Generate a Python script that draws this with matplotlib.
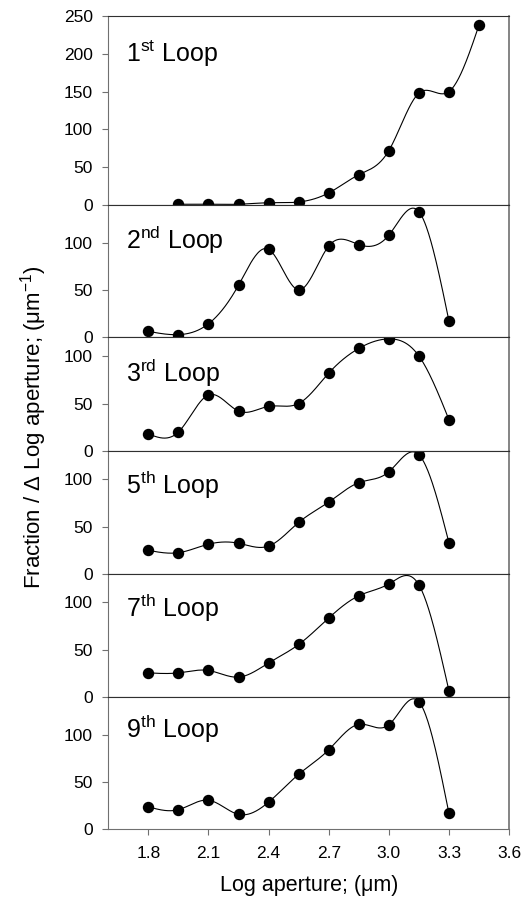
import numpy as np
import matplotlib
matplotlib.use('Agg')
import matplotlib.pyplot as plt

plt.rcParams['font.family'] = ['Liberation Sans', 'DejaVu Sans']
plt.rcParams['mathtext.fontset'] = 'custom'
plt.rcParams['mathtext.rm'] = 'Liberation Sans'
plt.rcParams['mathtext.it'] = 'Liberation Sans:italic'

# log aperture values (the 1st loop is shifted one bin to the right)
x_first = [1.95, 2.10, 2.25, 2.40, 2.55, 2.70, 2.85, 3.00, 3.15, 3.30, 3.45]
x_other = [1.80, 1.95, 2.10, 2.25, 2.40, 2.55, 2.70, 2.85, 3.00, 3.15, 3.30]

loop1 = [1, 1, 1, 3, 4, 16, 40, 72, 148, 150, 238]
loop2 = [6, 2.5, 14, 55, 93, 50, 96.5, 98, 108, 133, 17]
loop3 = [18, 20, 59, 42, 47, 50, 82, 108, 118, 100, 33]
loop5 = [25, 22.5, 31.5, 32.5, 29.5, 54.5, 76, 96.5, 108, 126, 33]
loop7 = [25.5, 25.5, 28, 21, 36, 55.5, 83.5, 107, 119.5, 118.5, 6.5]
loop9 = [23.5, 20.5, 30.5, 15.5, 28.5, 58, 84, 111, 110.5, 135, 16.5]

labels = ['1$^{\\rm st}$ Loop', '2$^{\\rm nd}$ Loop', '3$^{\\rm rd}$ Loop',
          '5$^{\\rm th}$ Loop', '7$^{\\rm th}$ Loop', '9$^{\\rm th}$ Loop']
ymax = [250, 140, 120, 130, 130, 140]
label_y = [0.758, 0.667, 0.608, 0.648, 0.647, 0.686]


def natural_spline(x, y, n=400):
    x = np.asarray(x, float)
    y = np.asarray(y, float)
    k = len(x)
    h = np.diff(x)
    A = np.zeros((k, k))
    r = np.zeros(k)
    A[0, 0] = A[-1, -1] = 1
    for i in range(1, k - 1):
        A[i, i - 1] = h[i - 1]
        A[i, i] = 2 * (h[i - 1] + h[i])
        A[i, i + 1] = h[i]
        r[i] = 3 * ((y[i + 1] - y[i]) / h[i] - (y[i] - y[i - 1]) / h[i - 1])
    c = np.linalg.solve(A, r)
    b = (y[1:] - y[:-1]) / h - h * (2 * c[:-1] + c[1:]) / 3
    d = (c[1:] - c[:-1]) / (3 * h)
    xs = np.linspace(x[0], x[-1], n)
    idx = np.clip(np.searchsorted(x, xs) - 1, 0, k - 2)
    t = xs - x[idx]
    ys = y[idx] + b[idx] * t + c[idx] * t ** 2 + d[idx] * t ** 3
    return xs, ys


series = [(x_first, loop1), (x_other, loop2), (x_other, loop3),
          (x_other, loop5), (x_other, loop7), (x_other, loop9)]

fig = plt.figure(figsize=(5.27, 9.05), dpi=100)
gs = fig.add_gridspec(6, 1, height_ratios=[189, 132, 114, 123, 123, 132],
                      left=0.2055, right=0.966, top=0.9823, bottom=0.084,
                      hspace=0)

for i, (xv, yv) in enumerate(series):
    ax = fig.add_subplot(gs[i])
    xs, ys = natural_spline(xv, yv)
    ax.plot(xs, ys, color='black', lw=0.8)
    ax.plot(xv, yv, 'o', color='black', ms=7.2)
    ax.set_xlim(1.6, 3.6)
    ax.set_ylim(0, ymax[i])
    if i == 0:
        ax.set_yticks([0, 50, 100, 150, 200, 250])
    else:
        ax.set_yticks([0, 50, 100])
    ax.set_xticks([1.8, 2.1, 2.4, 2.7, 3.0, 3.3, 3.6])
    ax.tick_params(axis='y', direction='out', length=4, width=0.8,
                   color='#707070', labelsize=12.5, pad=7)
    ax.tick_params(axis='x', direction='out', length=4, width=0.8,
                   color='#707070', labelsize=12.5, pad=8)
    for s in ['left', 'right']:
        ax.spines[s].set_color('#707070')
    for s in ['top', 'bottom']:
        ax.spines[s].set_color('#303030')
    ax.spines['right'].set_linewidth(1.2)
    if i < 5:
        ax.tick_params(axis='x', bottom=False, labelbottom=False)
    else:
        ax.set_xticklabels(['1.8', '2.1', '2.4', '2.7', '3.0', '3.3', '3.6'])
        ax.spines['bottom'].set_color('#707070')
        ax.set_xlabel('Log aperture; (\u03bcm)', fontsize=15.5, labelpad=10)
    ax.text(0.044, label_y[i], labels[i], transform=ax.transAxes,
            fontsize=18, va='baseline', ha='left')

fig.text(0.063, 0.528, 'Fraction / \u0394 Log aperture; (\u03bcm$^{-1}$)',
         rotation=90, ha='center', va='center', fontsize=16)

plt.savefig('out.png', dpi=100)
